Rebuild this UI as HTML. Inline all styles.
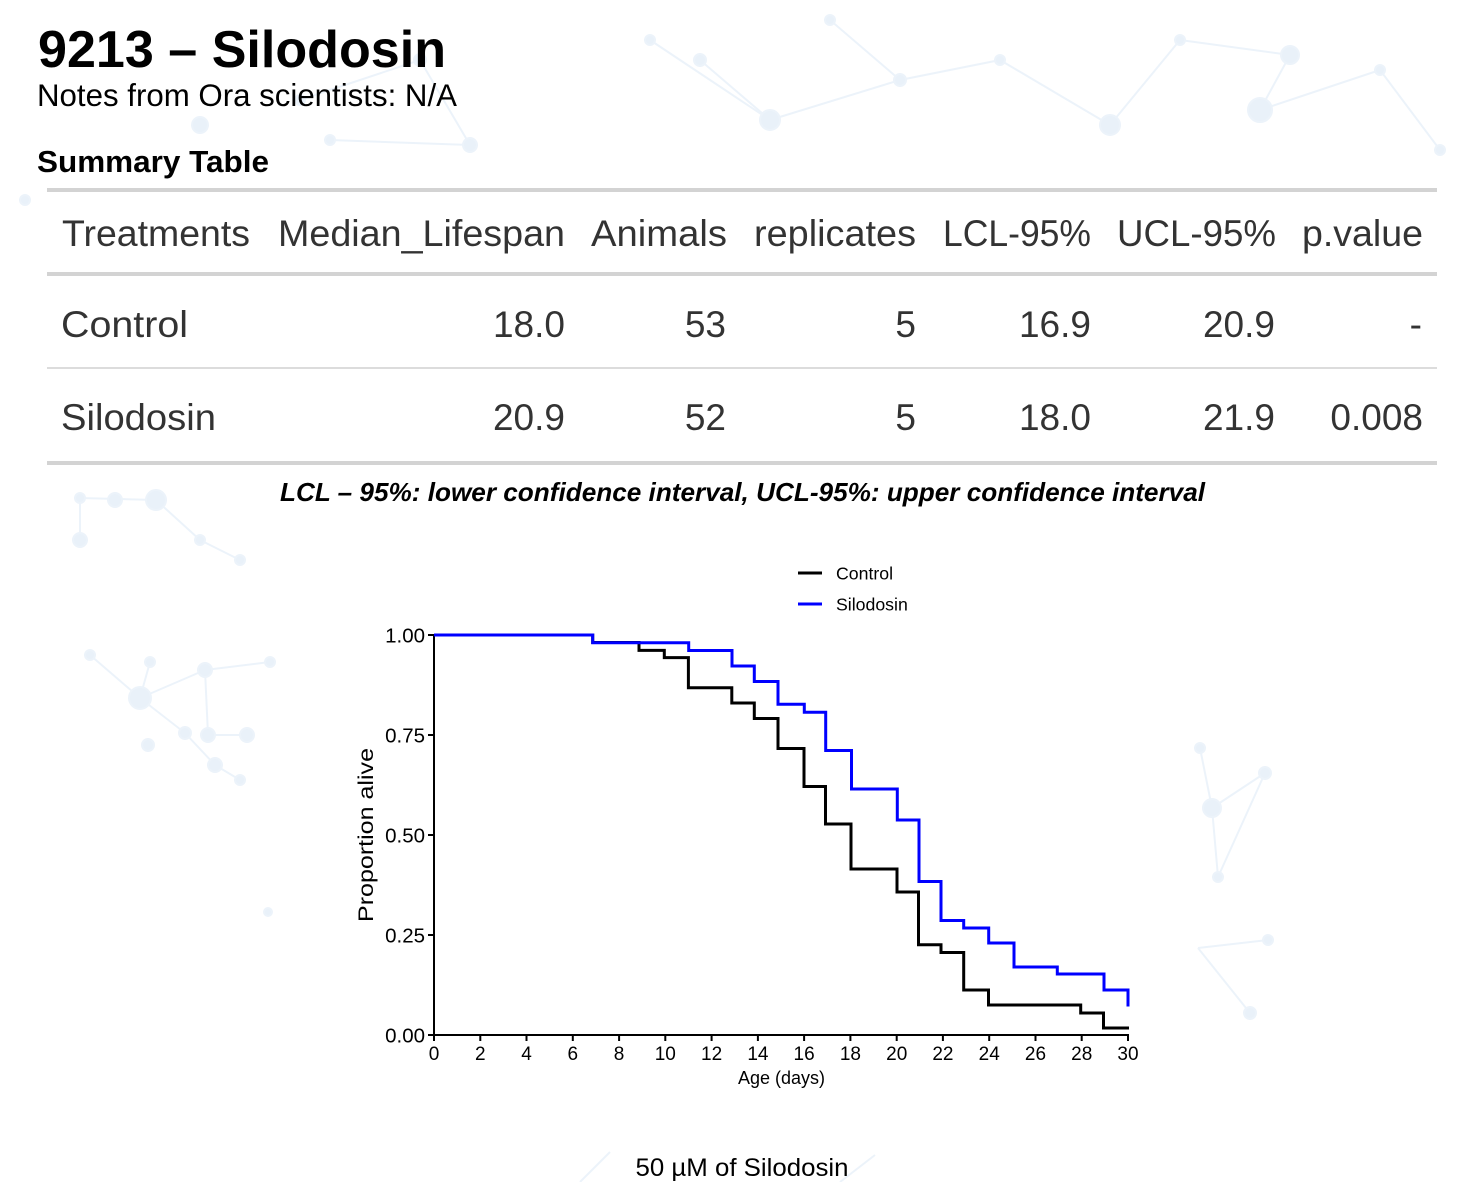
<!DOCTYPE html>
<html>
<head>
<meta charset="utf-8">
<style>
  html, body { margin: 0; padding: 0; background: #ffffff; }
  body { width: 1480px; height: 1182px; overflow: hidden; }
  svg { display: block; }
  .sans { font-family: "Liberation Sans", Arial, sans-serif; }
</style>
</head>
<body>
<svg width="1480" height="1182" viewBox="0 0 1480 1182" xmlns="http://www.w3.org/2000/svg">
  <rect x="0" y="0" width="1480" height="1182" fill="#ffffff"/>

  <!-- faint background network decoration -->
  <g stroke="#e9f1fa" stroke-width="2" fill="#e6eff9" opacity="0.85">
    <!-- top band -->
    <line x1="300" y1="100" x2="420" y2="60"/><line x1="420" y1="60" x2="470" y2="145"/>
    <line x1="330" y1="140" x2="470" y2="145"/><line x1="650" y1="40" x2="770" y2="120"/>
    <line x1="700" y1="60" x2="770" y2="120"/><line x1="770" y1="120" x2="900" y2="80"/>
    <line x1="900" y1="80" x2="1000" y2="60"/><line x1="1000" y1="60" x2="1110" y2="125"/>
    <line x1="1110" y1="125" x2="1180" y2="40"/><line x1="1180" y1="40" x2="1290" y2="55"/>
    <line x1="1290" y1="55" x2="1260" y2="110"/><line x1="1260" y1="110" x2="1380" y2="70"/>
    <line x1="1380" y1="70" x2="1440" y2="150"/><line x1="830" y1="20" x2="900" y2="80"/>
    <circle cx="300" cy="100" r="5"/><circle cx="330" cy="140" r="5"/><circle cx="420" cy="60" r="6"/>
    <circle cx="470" cy="145" r="7"/><circle cx="650" cy="40" r="5"/><circle cx="700" cy="60" r="6"/>
    <circle cx="770" cy="120" r="10"/><circle cx="830" cy="20" r="5"/><circle cx="900" cy="80" r="6"/>
    <circle cx="1000" cy="60" r="5"/><circle cx="1110" cy="125" r="10"/><circle cx="1180" cy="40" r="5"/>
    <circle cx="1260" cy="110" r="12"/><circle cx="1290" cy="55" r="9"/><circle cx="1380" cy="70" r="5"/>
    <circle cx="1440" cy="150" r="5"/><circle cx="200" cy="125" r="8"/><circle cx="25" cy="200" r="5"/>
    <!-- left box -->
    <line x1="80" y1="498" x2="156" y2="500"/><line x1="156" y1="500" x2="200" y2="540"/>
    <line x1="200" y1="540" x2="240" y2="560"/><line x1="80" y1="498" x2="80" y2="540"/>
    <line x1="140" y1="698" x2="90" y2="655"/><line x1="140" y1="698" x2="150" y2="662"/>
    <line x1="140" y1="698" x2="205" y2="670"/><line x1="205" y1="670" x2="270" y2="662"/>
    <line x1="205" y1="670" x2="208" y2="735"/><line x1="208" y1="735" x2="247" y2="735"/>
    <line x1="140" y1="698" x2="185" y2="733"/><line x1="185" y1="733" x2="215" y2="765"/>
    <line x1="215" y1="765" x2="240" y2="780"/>
    <circle cx="80" cy="498" r="5"/><circle cx="115" cy="500" r="7"/><circle cx="156" cy="500" r="10"/>
    <circle cx="200" cy="540" r="5"/><circle cx="240" cy="560" r="5"/><circle cx="80" cy="540" r="7"/>
    <circle cx="140" cy="698" r="11"/><circle cx="90" cy="655" r="5"/><circle cx="150" cy="662" r="5"/>
    <circle cx="205" cy="670" r="7"/><circle cx="270" cy="662" r="5"/><circle cx="208" cy="735" r="7"/>
    <circle cx="247" cy="735" r="7"/><circle cx="185" cy="733" r="6"/><circle cx="215" cy="765" r="7"/>
    <circle cx="240" cy="780" r="5"/><circle cx="148" cy="745" r="6"/><circle cx="268" cy="912" r="4"/>
    <!-- right box -->
    <line x1="1200" y1="748" x2="1212" y2="808"/><line x1="1212" y1="808" x2="1265" y2="773"/>
    <line x1="1265" y1="773" x2="1218" y2="877"/><line x1="1212" y1="808" x2="1218" y2="877"/>
    <line x1="1198" y1="948" x2="1268" y2="940"/><line x1="1198" y1="948" x2="1250" y2="1013"/>
    <circle cx="1200" cy="748" r="5"/><circle cx="1212" cy="808" r="9"/><circle cx="1265" cy="773" r="6"/>
    <circle cx="1218" cy="877" r="5"/><circle cx="1268" cy="940" r="5"/><circle cx="1250" cy="1013" r="6"/>
    <!-- bottom -->
    <line x1="580" y1="1182" x2="610" y2="1152"/><line x1="840" y1="1182" x2="875" y2="1155"/>
  </g>

  <!-- Title block -->
  <text class="sans" x="38" y="67" font-size="51.5" font-weight="bold" fill="#000" textLength="408" lengthAdjust="spacingAndGlyphs">9213 – Silodosin</text>
  <text class="sans" x="37" y="106" font-size="31.5" fill="#000" textLength="420" lengthAdjust="spacingAndGlyphs">Notes from Ora scientists: N/A</text>
  <text class="sans" x="37" y="172" font-size="31" font-weight="bold" fill="#000" textLength="232" lengthAdjust="spacingAndGlyphs">Summary Table</text>

  <!-- Table lines -->
  <rect x="47" y="188" width="1390" height="4" fill="#d3d3d3"/>
  <rect x="47" y="272" width="1390" height="4" fill="#d3d3d3"/>
  <rect x="47" y="367" width="1390" height="2" fill="#dcdcdc"/>
  <rect x="47" y="461" width="1390" height="4" fill="#d3d3d3"/>

  <!-- Table header -->
  <g class="sans" font-size="37" fill="#333">
    <text x="62" y="246" textLength="188" lengthAdjust="spacingAndGlyphs">Treatments</text>
    <text x="278" y="246" textLength="287" lengthAdjust="spacingAndGlyphs">Median_Lifespan</text>
    <text x="591" y="246" textLength="136" lengthAdjust="spacingAndGlyphs">Animals</text>
    <text x="754" y="246" textLength="162" lengthAdjust="spacingAndGlyphs">replicates</text>
    <text x="943" y="246" textLength="148" lengthAdjust="spacingAndGlyphs">LCL-95%</text>
    <text x="1117" y="246" textLength="159" lengthAdjust="spacingAndGlyphs">UCL-95%</text>
    <text x="1302" y="246" textLength="121" lengthAdjust="spacingAndGlyphs">p.value</text>

    <!-- Row 1 -->
    <text x="61" y="337" textLength="127" lengthAdjust="spacingAndGlyphs">Control</text>
    <text x="565" y="337" text-anchor="end">18.0</text>
    <text x="726" y="337" text-anchor="end">53</text>
    <text x="916" y="337" text-anchor="end">5</text>
    <text x="1091" y="337" text-anchor="end">16.9</text>
    <text x="1275" y="337" text-anchor="end">20.9</text>
    <text x="1422" y="337" text-anchor="end">-</text>

    <!-- Row 2 -->
    <text x="61" y="430" textLength="155" lengthAdjust="spacingAndGlyphs">Silodosin</text>
    <text x="565" y="430" text-anchor="end">20.9</text>
    <text x="726" y="430" text-anchor="end">52</text>
    <text x="916" y="430" text-anchor="end">5</text>
    <text x="1091" y="430" text-anchor="end">18.0</text>
    <text x="1275" y="430" text-anchor="end">21.9</text>
    <text x="1423" y="430" text-anchor="end">0.008</text>
  </g>

  <!-- Caption -->
  <text class="sans" x="280" y="501" font-size="25.7" font-weight="bold" font-style="italic" fill="#000" textLength="925" lengthAdjust="spacingAndGlyphs">LCL – 95%: lower confidence interval, UCL-95%: upper confidence interval</text>

  <!-- Legend -->
  <line x1="798" y1="573" x2="822" y2="573" stroke="#000" stroke-width="3"/>
  <text class="sans" x="836" y="579.5" font-size="17.7" fill="#000">Control</text>
  <line x1="798" y1="604" x2="822" y2="604" stroke="#0000ff" stroke-width="3"/>
  <text class="sans" x="836" y="610.5" font-size="17.7" fill="#000">Silodosin</text>

  <!-- Axes -->
  <g stroke="#000" stroke-width="2" fill="none">
    <line x1="434" y1="634" x2="434" y2="1036"/>
    <line x1="433" y1="1035" x2="1129" y2="1035"/>
    <!-- y ticks -->
    <line x1="428" y1="635" x2="434" y2="635"/>
    <line x1="428" y1="735" x2="434" y2="735"/>
    <line x1="428" y1="835" x2="434" y2="835"/>
    <line x1="428" y1="935" x2="434" y2="935"/>
    <line x1="428" y1="1035" x2="434" y2="1035"/>
    <!-- x ticks -->
    <line x1="434" y1="1035" x2="434" y2="1041"/>
    <line x1="480.3" y1="1035" x2="480.3" y2="1041"/>
    <line x1="526.5" y1="1035" x2="526.5" y2="1041"/>
    <line x1="572.8" y1="1035" x2="572.8" y2="1041"/>
    <line x1="619.1" y1="1035" x2="619.1" y2="1041"/>
    <line x1="665.3" y1="1035" x2="665.3" y2="1041"/>
    <line x1="711.6" y1="1035" x2="711.6" y2="1041"/>
    <line x1="757.9" y1="1035" x2="757.9" y2="1041"/>
    <line x1="804.1" y1="1035" x2="804.1" y2="1041"/>
    <line x1="850.4" y1="1035" x2="850.4" y2="1041"/>
    <line x1="896.7" y1="1035" x2="896.7" y2="1041"/>
    <line x1="942.9" y1="1035" x2="942.9" y2="1041"/>
    <line x1="989.2" y1="1035" x2="989.2" y2="1041"/>
    <line x1="1035.5" y1="1035" x2="1035.5" y2="1041"/>
    <line x1="1081.7" y1="1035" x2="1081.7" y2="1041"/>
    <line x1="1128" y1="1035" x2="1128" y2="1041"/>
  </g>

  <!-- Y tick labels -->
  <g class="sans" font-size="20.5" fill="#000" text-anchor="end">
    <text x="425" y="642.5">1.00</text>
    <text x="425" y="742.5">0.75</text>
    <text x="425" y="842.5">0.50</text>
    <text x="425" y="942.5">0.25</text>
    <text x="425" y="1042.5">0.00</text>
  </g>

  <!-- X tick labels -->
  <g class="sans" font-size="19" fill="#000" text-anchor="middle">
    <text x="434" y="1060">0</text>
    <text x="480.3" y="1060">2</text>
    <text x="526.5" y="1060">4</text>
    <text x="572.8" y="1060">6</text>
    <text x="619.1" y="1060">8</text>
    <text x="665.3" y="1060">10</text>
    <text x="711.6" y="1060">12</text>
    <text x="757.9" y="1060">14</text>
    <text x="804.1" y="1060">16</text>
    <text x="850.4" y="1060">18</text>
    <text x="896.7" y="1060">20</text>
    <text x="942.9" y="1060">22</text>
    <text x="989.2" y="1060">24</text>
    <text x="1035.5" y="1060">26</text>
    <text x="1081.7" y="1060">28</text>
    <text x="1128" y="1060">30</text>
  </g>

  <!-- Axis titles -->
  <text class="sans" x="781.5" y="1084" font-size="18" fill="#000" text-anchor="middle">Age (days)</text>
  <text class="sans" transform="translate(373,835) rotate(-90)" x="0" y="0" font-size="21" fill="#000" text-anchor="middle" textLength="174" lengthAdjust="spacingAndGlyphs">Proportion alive</text>

  <!-- Survival curves -->
  <path d="M434,635 H592.7 V642.5 H639 V650.4 H664.3 V657.6 H688.4 V687.8 H731.8 V703 H754.3 V718.5 H778 V748.5 H804 V786.5 H825.5 V824 H851 V869 H897 V892 H918.5 V944.8 H941 V952.5 H963.7 V990 H988.5 V1005 H1080.7 V1013 H1103.5 V1028 H1129"
        fill="none" stroke="#000" stroke-width="3" stroke-linejoin="miter"/>
  <path d="M434,635 H592.7 V642.7 H688.7 V650.5 H732 V666 H754.3 V681.5 H778 V704.3 H804.3 V712.2 H825.7 V750.5 H851.5 V789 H897.3 V820 H919 V881.5 H941 V920.5 H963.7 V928 H988.7 V943 H1014 V967 H1057.3 V974 H1104 V990 H1128 V1006.5"
        fill="none" stroke="#0000ff" stroke-width="3" stroke-linejoin="miter"/>

  <!-- Footer -->
  <text class="sans" x="742" y="1176" font-size="25" fill="#000" text-anchor="middle" textLength="213" lengthAdjust="spacingAndGlyphs">50 µM of Silodosin</text>
</svg>
</body>
</html>
